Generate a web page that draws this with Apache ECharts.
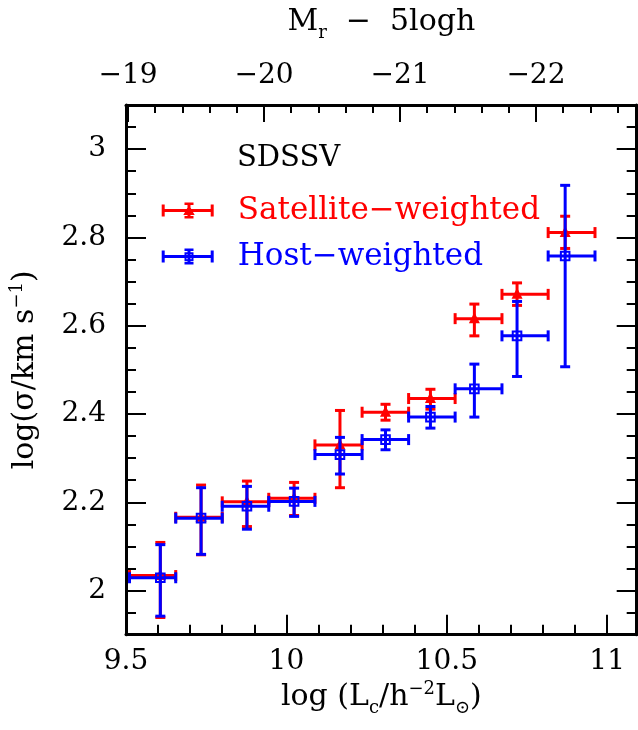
<!DOCTYPE html>
<html>
<head>
<meta charset="utf-8">
<script src="https://cdn.jsdelivr.net/npm/echarts@6/dist/echarts.min.js"></script>
<style>html,body{margin:0;padding:0;background:#fff}#c{width:638px;height:730px}</style>
</head>
<body>
<div id="c"></div>
<script>
// ---- data ----
const lumCenters = [9.607, 9.734, 9.877, 10.024, 10.167, 10.309, 10.449, 10.586, 10.719, 10.869];
const binEdges   = [9.511, 9.655, 9.800, 9.945, 10.089, 10.236, 10.381, 10.526, 10.672, 10.816, 10.962];

const satY  = [2.034, 2.166, 2.201, 2.209, 2.330, 2.404, 2.435, 2.616, 2.671, 2.811];
const satHi = [2.109, 2.239, 2.248, 2.245, 2.408, 2.422, 2.456, 2.649, 2.697, 2.848];
const satLo = [1.939, 2.081, 2.145, 2.170, 2.233, 2.386, 2.411, 2.577, 2.646, 2.775];

const hostY  = [2.029, 2.164, 2.191, 2.202, 2.308, 2.342, 2.393, 2.457, 2.577, 2.758];
const hostHi = [2.104, 2.233, 2.236, 2.232, 2.347, 2.364, 2.417, 2.513, 2.655, 2.918];
const hostLo = [1.942, 2.082, 2.139, 2.168, 2.264, 2.319, 2.368, 2.393, 2.485, 2.507];

// ---- axis ticks ----
const xTickMajor = [9.5, 10, 10.5, 11];
const xTickMinor = [9.6, 9.7, 9.8, 9.9, 10.1, 10.2, 10.3, 10.4, 10.6, 10.7, 10.8, 10.9, 11.0];
const yTickMajor = [2, 2.2, 2.4, 2.6, 2.8, 3];
const yTickMinor = [1.95, 2.05, 2.1, 2.15, 2.25, 2.3, 2.35, 2.45, 2.5, 2.55, 2.65, 2.7, 2.75, 2.85, 2.9, 2.95, 3.05];
const topTickMajor = [19, 20, 21, 22];
const topTickMinor = [19.2, 19.4, 19.6, 19.8, 20.2, 20.4, 20.6, 20.8, 21.2, 21.4, 21.6, 21.8, 22.2, 22.4, 22.6];

const seriesNames = ['Satellite\u2212weighted', 'Host\u2212weighted'];
const seriesColors = ['#ff0000', '#0000ff'];

const FONT = 'DejaVu Serif';
const X_MIN = 9.5, X_MAX = 11.092;
const Y_MIN = 1.9, Y_MAX = 3.1;
const M_MIN = 18.985, M_MAX = 22.741;

function rows(yc, lo, hi) {
  return lumCenters.map((x, i) => [x, yc[i], binEdges[i], binEdges[i + 1], lo[i], hi[i]]);
}

function makeRender(color, marker) {
  return function (params, api) {
    const x = api.value(0), y = api.value(1);
    const c = api.coord([x, y]);
    const l = api.coord([api.value(2), y]);
    const r = api.coord([api.value(3), y]);
    const b = api.coord([x, api.value(4)]);
    const t = api.coord([x, api.value(5)]);
    const st = { stroke: color, lineWidth: 3, fill: null };
    const line = (x1, y1, x2, y2) => ({ type: 'line', shape: { x1, y1, x2, y2 }, style: st });
    const ch = 5.5, cw = 5;
    const children = [
      line(l[0], c[1], r[0], c[1]),
      line(l[0], c[1] - ch, l[0], c[1] + ch),
      line(r[0], c[1] - ch, r[0], c[1] + ch),
      line(c[0], t[1], c[0], b[1]),
      line(c[0] - cw, t[1], c[0] + cw, t[1]),
      line(c[0] - cw, b[1], c[0] + cw, b[1])
    ];
    if (marker === 'tri') {
      children.push({ type: 'polygon', shape: { points: [[c[0], c[1] - 6.5], [c[0] + 5.5, c[1] + 4.5], [c[0] - 5.5, c[1] + 4.5]] }, style: { fill: color } });
    } else {
      children.push({ type: 'rect', shape: { x: c[0] - 4.3, y: c[1] - 4.3, width: 8.6, height: 8.6 }, style: { stroke: color, lineWidth: 2, fill: null } });
    }
    return { type: 'group', children };
  };
}

const iconBase = 'M0 6.5H52V9.5H0Z M0 2H3V14H0Z M49 2H52V14H49Z M25.8 0H28.8V16H25.8Z M22.8 0H31.8V2.5H22.8Z M22.8 13.5H31.8V16H22.8Z';
const iconSat = 'path://' + iconBase + ' M27.3 2.5L33 12.5L21.6 12.5Z';
const iconHost = 'path://' + iconBase + ' M22.8 3.7H31.8V12.7H22.8Z M24.8 5.7V10.7H29.8V5.7Z';

const axisLineStyle = { show: true, lineStyle: { color: '#000', width: 3 } };
const labelStyle = { fontFamily: FONT, fontSize: 28, color: '#000' };
const subStyle = { fontFamily: FONT, fontSize: 18, color: '#000', padding: [22, 0, 0, 0] };
const supStyle = { fontFamily: FONT, fontSize: 18, color: '#000', padding: [0, 0, 16, 0] };

function majorX(pos, min, max, ticks, len, labelOpt) {
  return {
    type: 'value', position: pos, min, max, scale: true,
    axisLine: axisLineStyle,
    axisTick: { show: true, inside: true, length: len, customValues: ticks, lineStyle: { color: '#000', width: 2 } },
    axisLabel: labelOpt,
    splitLine: { show: false }
  };
}
function minorAxis(pos, min, max, ticks, len) {
  return {
    type: 'value', position: pos, min, max, scale: true,
    axisLine: { show: false },
    axisTick: { show: true, inside: true, length: len, customValues: ticks, lineStyle: { color: '#000', width: 2 } },
    axisLabel: { show: false },
    splitLine: { show: false }
  };
}

const chart = echarts.init(document.getElementById('c'), null, { renderer: 'canvas' });

const xAxes = [
  Object.assign(majorX('bottom', X_MIN, X_MAX, xTickMajor, 20,
    Object.assign({ show: true, margin: 13, customValues: xTickMajor, formatter: v => String(v) }, labelStyle)), {
    name: 'log (L{sub|c}/h{sup|\u22122}L{sub|\u2299})',
    nameLocation: 'middle', nameGap: 44,
    nameTextStyle: {
      fontFamily: FONT, fontSize: 30, color: '#000', lineHeight: 34,
      rich: { sub: subStyle, sup: supStyle }
    }
  }),
  minorAxis('bottom', X_MIN, X_MAX, xTickMinor, 10),
  Object.assign(majorX('top', M_MIN, M_MAX, topTickMajor, 17,
    Object.assign({ show: true, margin: 15, customValues: topTickMajor, formatter: v => '\u2212' + v }, labelStyle)), {
    name: 'M{sub|r}  \u2212  5logh',
    nameLocation: 'middle', nameGap: 66,
    nameTextStyle: {
      fontFamily: FONT, fontSize: 30, color: '#000', lineHeight: 34,
      rich: { sub: subStyle }
    }
  }),
  minorAxis('top', M_MIN, M_MAX, topTickMinor, 8)
];

const yAxes = [
  {
    type: 'value', position: 'left', min: Y_MIN, max: Y_MAX, scale: true,
    axisLine: axisLineStyle,
    axisTick: { show: true, inside: true, length: 20, customValues: yTickMajor, lineStyle: { color: '#000', width: 2 } },
    axisLabel: Object.assign({ show: true, margin: 20, customValues: yTickMajor, formatter: v => String(v) }, labelStyle),
    splitLine: { show: false },
    name: 'log(\u03c3/km s{sup|\u22121})',
    nameLocation: 'middle', nameGap: 84,
    nameTextStyle: {
      fontFamily: FONT, fontSize: 30, color: '#000', lineHeight: 34,
      rich: { sup: supStyle }
    }
  },
  minorAxis('left', Y_MIN, Y_MAX, yTickMinor, 10),
  {
    type: 'value', position: 'right', min: Y_MIN, max: Y_MAX, scale: true,
    axisLine: axisLineStyle,
    axisTick: { show: true, inside: true, length: 20, customValues: yTickMajor, lineStyle: { color: '#000', width: 2 } },
    axisLabel: { show: false },
    splitLine: { show: false }
  },
  minorAxis('right', Y_MIN, Y_MAX, yTickMinor, 10)
];

chart.setOption({
  animation: false,
  backgroundColor: '#fff',
  grid: { left: 123.3, top: 102.5, width: 513.4, height: 532.2, containLabel: false },
  title: {
    text: 'SDSSV', left: 237, top: 143, padding: 0,
    textStyle: { fontFamily: FONT, fontSize: 29, fontWeight: 'normal', color: '#000', lineHeight: 30 }
  },
  legend: {
    orient: 'vertical', left: 161.7, top: 195, padding: 0, itemGap: 15,
    itemWidth: 52, itemHeight: 16, selectedMode: false,
    textStyle: { fontFamily: FONT, fontSize: 31, lineHeight: 30, padding: [0, 0, 0, 19] },
    data: [
      { name: seriesNames[0], icon: iconSat, itemStyle: { color: seriesColors[0], borderWidth: 0 }, textStyle: { color: seriesColors[0] } },
      { name: seriesNames[1], icon: iconHost, itemStyle: { color: seriesColors[1], borderWidth: 0 }, textStyle: { color: seriesColors[1] } }
    ]
  },
  xAxis: xAxes,
  yAxis: yAxes,
  series: [
    {
      name: seriesNames[0], type: 'custom', xAxisIndex: 0, yAxisIndex: 0,
      itemStyle: { color: seriesColors[0] },
      renderItem: makeRender(seriesColors[0], 'tri'),
      encode: { x: [0, 2, 3], y: [1, 4, 5] },
      data: rows(satY, satLo, satHi), z: 2
    },
    {
      name: seriesNames[1], type: 'custom', xAxisIndex: 0, yAxisIndex: 0,
      itemStyle: { color: seriesColors[1] },
      renderItem: makeRender(seriesColors[1], 'sq'),
      encode: { x: [0, 2, 3], y: [1, 4, 5] },
      data: rows(hostY, hostLo, hostHi), z: 3
    }
  ]
});
</script>
</body>
</html>
